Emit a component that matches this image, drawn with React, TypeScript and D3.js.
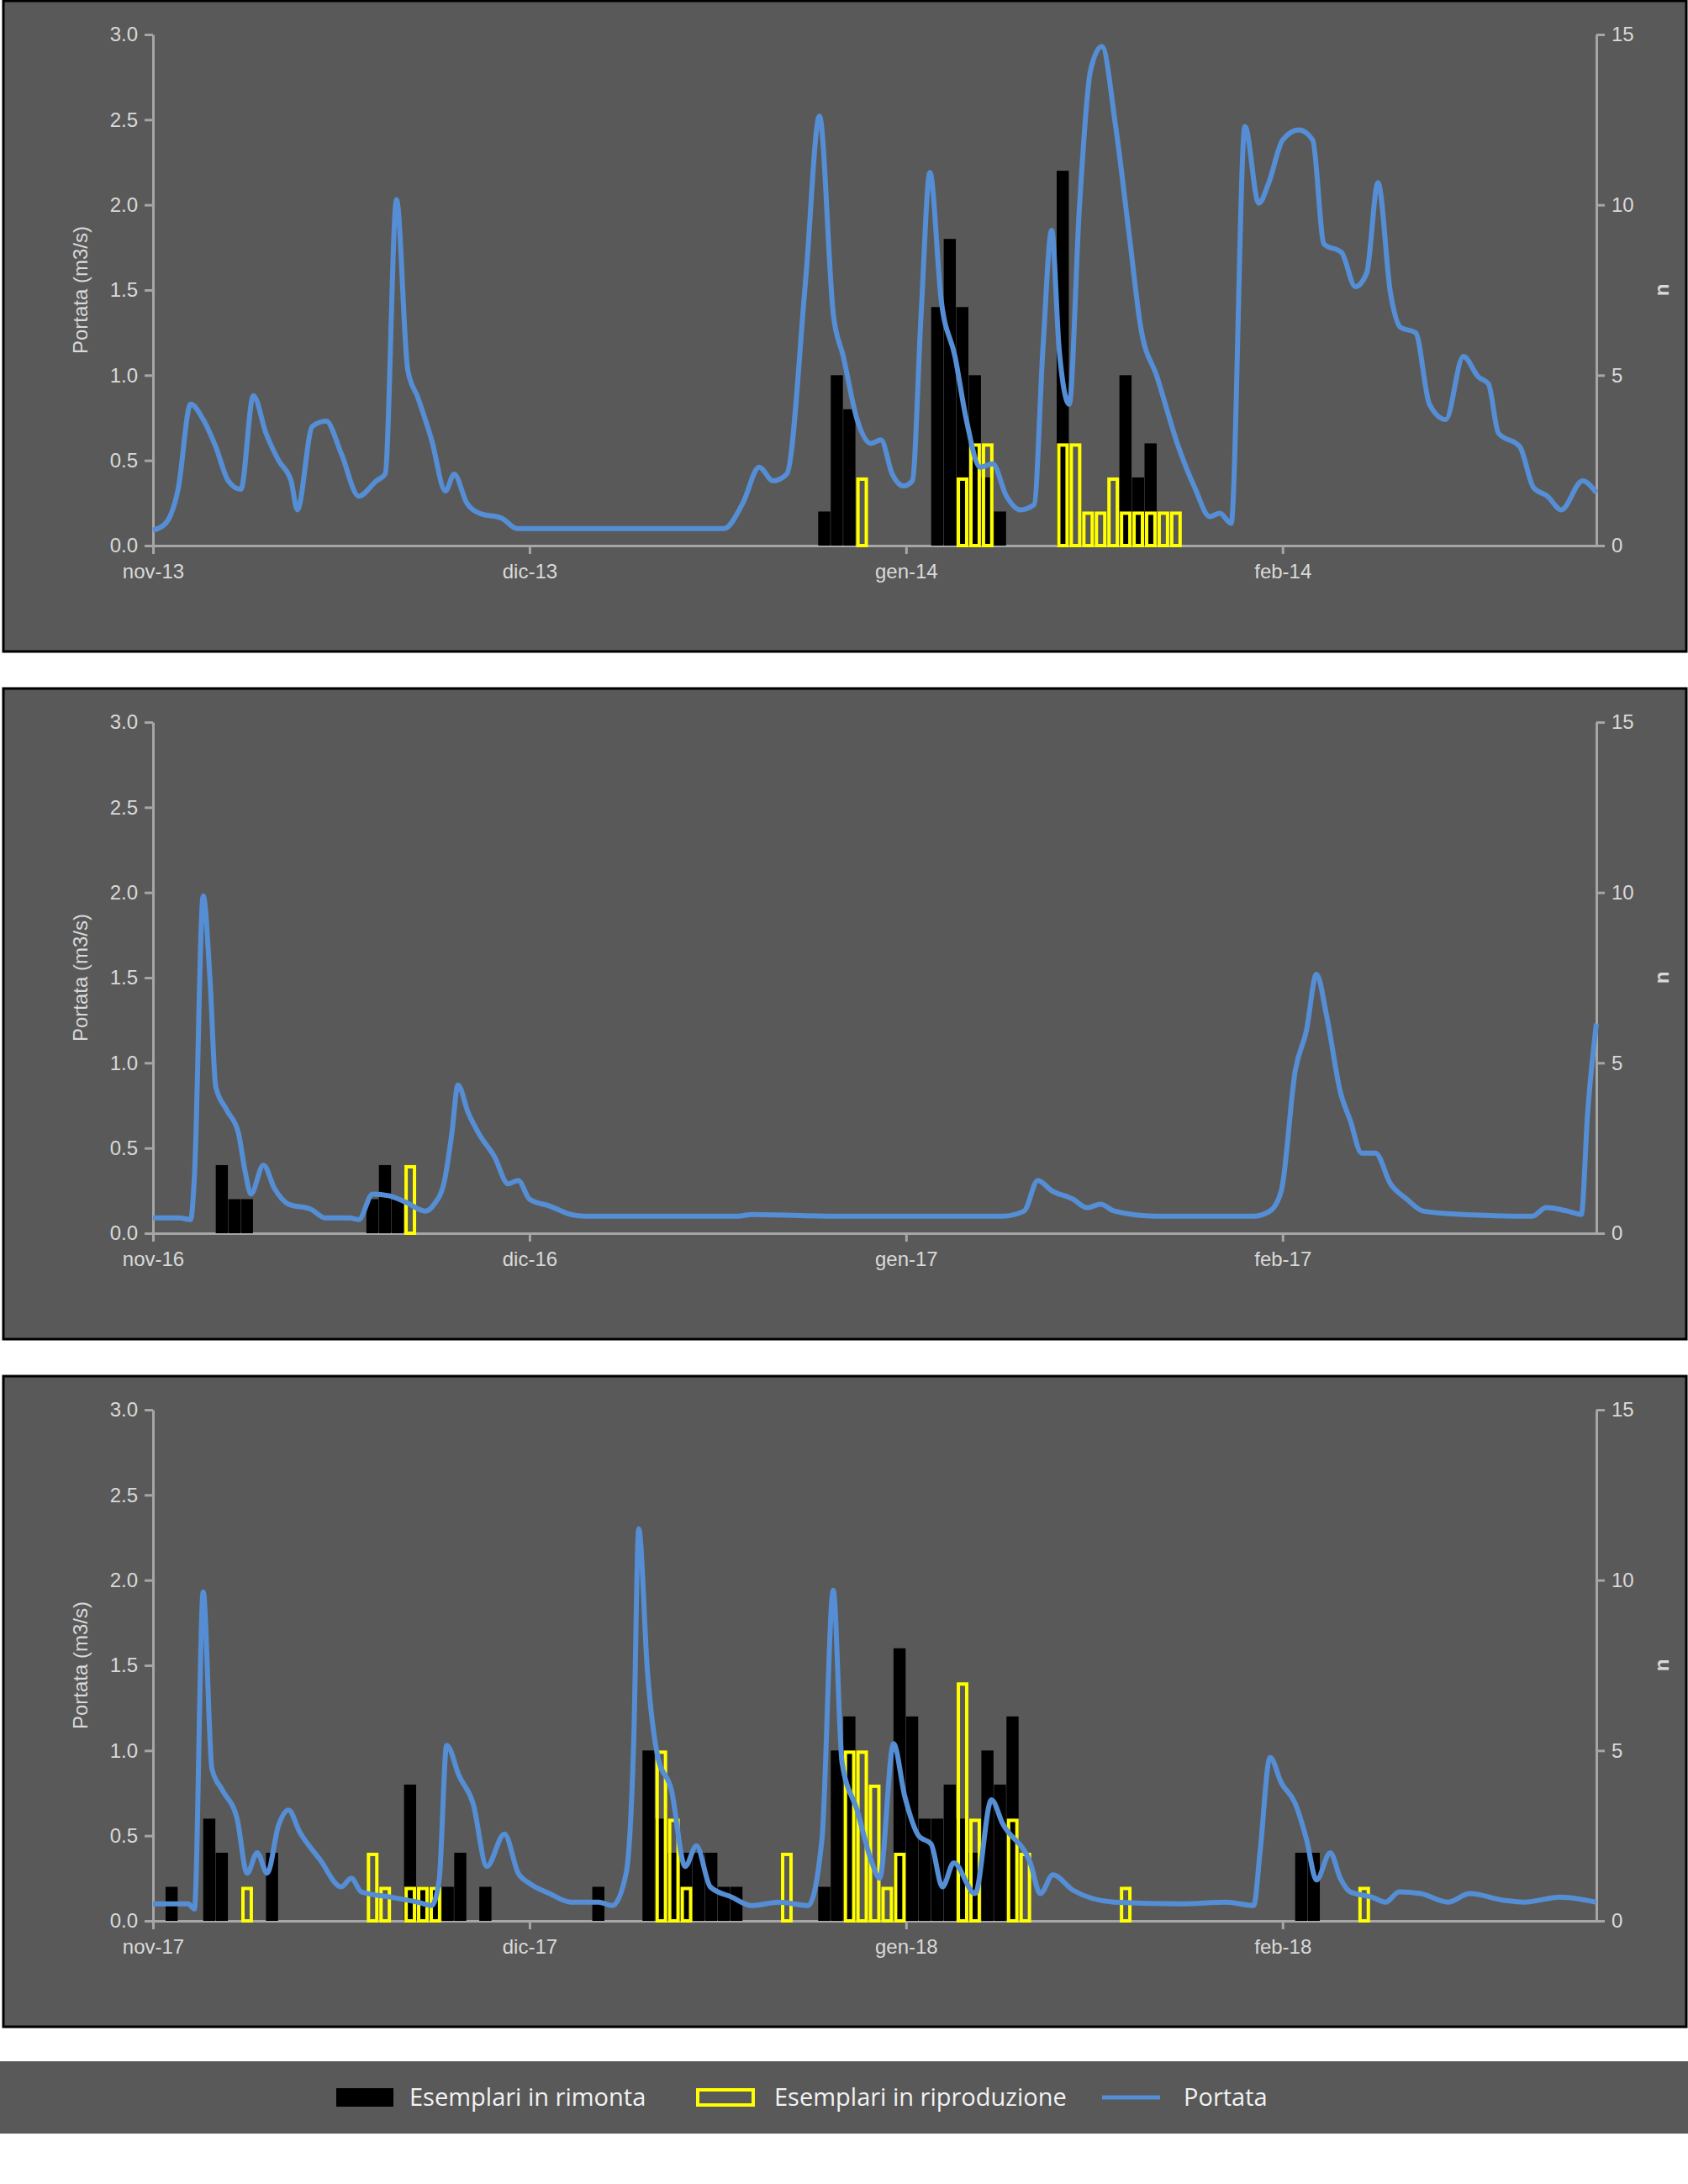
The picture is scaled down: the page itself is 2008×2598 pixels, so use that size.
import { useEffect, useRef } from "react";
import * as d3 from "d3";

type P = [number, number];

// day index (0 = 1 Nov) and discharge m3/s
const flow13: P[] = [[0,0.09],[1,0.13],[2,0.33],[3,0.83],[4,0.74],[5,0.58],[6,0.38],[7,0.33],[8,0.88],[9,0.66],[10,0.5],[11,0.38],[11.5,0.21],[12.7,0.7],[13.8,0.73],[15,0.54],[16.4,0.29],[17.8,0.38],[18.5,0.42],[19.4,2.03],[20.3,1.03],[21.1,0.87],[22.2,0.62],[23.3,0.32],[24,0.42],[25,0.25],[26,0.19],[27.8,0.16],[29,0.1],[35,0.1],[40,0.1],[45.5,0.1],[47,0.25],[48.3,0.46],[49.4,0.38],[50.5,0.42],[52,1.56],[53.1,2.52],[54.2,1.36],[55,1.11],[56.1,0.74],[57.2,0.6],[58,0.62],[58.9,0.42],[59.8,0.35],[60.5,0.38],[61.2,1.36],[61.9,2.19],[62.8,1.44],[63.9,1.11],[64.8,0.74],[65.9,0.46],[66.9,0.48],[68,0.29],[69.1,0.21],[70.2,0.24],[70.9,1.15],[71.6,1.85],[72.2,1.15],[73,0.83],[73.8,1.97],[74.7,2.79],[75.6,2.93],[76.7,2.46],[77.8,1.81],[78.7,1.28],[80,0.99],[81.7,0.58],[83,0.34],[84.2,0.17],[85,0.19],[85.9,0.13],[87,2.46],[88.1,2.01],[88.9,2.13],[90,2.38],[91.3,2.44],[92.4,2.38],[93.3,1.77],[94.7,1.72],[95.8,1.52],[96.7,1.6],[97.6,2.13],[98.6,1.48],[99.4,1.28],[100.6,1.25],[101.7,0.83],[103,0.74],[104.4,1.11],[105.6,0.99],[106.4,0.95],[107.2,0.66],[108.9,0.58],[110,0.34],[111.1,0.29],[112.2,0.21],[113.9,0.38],[115,0.31]];
const flow16: P[] = [[0,0.09],[2.1,0.09],[3,0.08],[3.3,0.33],[4,1.98],[4.55,1.48],[5,0.86],[5.9,0.72],[6.8,0.59],[7.35,0.36],[7.8,0.23],[8.8,0.4],[9.7,0.26],[10.8,0.17],[12.6,0.14],[13.7,0.09],[15.7,0.09],[16.4,0.08],[17.5,0.23],[18.8,0.22],[20.2,0.18],[21.7,0.13],[22.4,0.17],[23.2,0.3],[23.8,0.58],[24.3,0.87],[25.1,0.71],[26,0.58],[27.2,0.45],[28.3,0.29],[29.1,0.31],[30,0.2],[31.6,0.16],[33.3,0.11],[34.4,0.1],[40,0.1],[46.6,0.1],[47.7,0.11],[54.4,0.1],[60,0.1],[67.7,0.1],[69.4,0.13],[70.5,0.31],[71.6,0.25],[73.3,0.2],[74.4,0.15],[75.5,0.17],[76.6,0.13],[79.9,0.1],[87.7,0.1],[89,0.13],[89.9,0.25],[91,0.95],[91.9,1.19],[92.7,1.52],[93.5,1.28],[94.6,0.83],[95.4,0.66],[96.3,0.47],[97.4,0.47],[98.6,0.29],[99.9,0.2],[101.2,0.13],[104.3,0.11],[109.9,0.1],[111,0.15],[112.7,0.13],[113.8,0.11],[114.3,0.7],[115,1.23]];
const flow17: P[] = [[0,0.1],[2.8,0.1],[3.3,0.07],[4,1.93],[4.7,0.89],[5.5,0.77],[6.7,0.6],[7.5,0.28],[8.3,0.4],[9.1,0.28],[10,0.56],[10.8,0.65],[11.7,0.52],[13.3,0.36],[15,0.2],[15.8,0.25],[16.6,0.17],[18.9,0.14],[21.1,0.11],[22.2,0.09],[22.8,0.24],[23.4,1.03],[24.4,0.85],[25.5,0.69],[26.6,0.32],[28,0.51],[29.1,0.28],[30,0.22],[31.6,0.16],[33.3,0.11],[35.5,0.11],[36.6,0.09],[37.7,0.28],[38.3,1.05],[38.7,2.3],[39.4,1.46],[40.2,0.97],[41.3,0.77],[42.4,0.32],[43.3,0.44],[44.4,0.2],[46.1,0.14],[47.7,0.09],[49.9,0.11],[52.2,0.09],[53.3,0.48],[54.2,1.94],[54.9,0.93],[56.1,0.65],[57.2,0.36],[57.9,0.25],[59,1.04],[59.9,0.73],[61,0.5],[62,0.45],[62.9,0.2],[63.8,0.34],[65.5,0.16],[66.8,0.71],[67.7,0.57],[69.9,0.34],[70.7,0.16],[71.7,0.27],[73.3,0.18],[76.6,0.11],[82,0.1],[85.5,0.11],[87.7,0.09],[88.2,0.4],[89,0.96],[89.9,0.81],[91,0.69],[91.9,0.48],[92.7,0.24],[93.8,0.4],[94.6,0.25],[95.4,0.17],[97.1,0.14],[98.2,0.11],[99.3,0.17],[101,0.16],[103.2,0.11],[104.9,0.16],[107.7,0.12],[109.3,0.11],[112.1,0.14],[115,0.11]];

// [day, n]
const rimonta13: P[] = [[53,1],[54,5],[55,4],[62,7],[63,9],[64,7],[65,5],[66,2],[67,1],[72,11],[77,5],[78,2],[79,3]];
const riprod13: P[] = [[56,2],[64,2],[65,3],[66,3],[72,3],[73,3],[74,1],[75,1],[76,2],[77,1],[78,1],[79,1],[80,1],[81,1]];
const rimonta16: P[] = [[5,2],[6,1],[7,1],[17,1],[18,2],[19,1]];
const riprod16: P[] = [[20,2]];
const rimonta17: P[] = [[1,1],[4,3],[5,2],[9,2],[20,4],[21,1],[22,1],[23,1],[24,2],[26,1],[35,1],[39,5],[40,3],[41,2],[42,2],[43,2],[44,2],[45,1],[46,1],[53,1],[54,5],[55,6],[59,8],[60,6],[61,3],[62,3],[63,4],[64,3],[65,2],[66,5],[67,4],[68,6],[91,2],[92,2]];
const riprod17: P[] = [[7,1],[17,2],[18,1],[20,1],[21,1],[22,1],[40,5],[41,3],[42,1],[50,2],[55,5],[56,5],[57,4],[58,1],[59,2],[64,7],[65,3],[68,3],[69,2],[77,1],[96,1]];

const monthTicks = [0, 30, 60, 90];
const panels = [
  { months: ["nov-13", "dic-13", "gen-14", "feb-14"], flow: flow13, rimonta: rimonta13, riprod: riprod13 },
  { months: ["nov-16", "dic-16", "gen-17", "feb-17"], flow: flow16, rimonta: rimonta16, riprod: riprod16 },
  { months: ["nov-17", "dic-17", "gen-18", "feb-18"], flow: flow17, rimonta: rimonta17, riprod: riprod17 },
];

const W = 2008, H = 2598;
const BG = "#595959", AX = "#a6a6a6", TXT = "#d9d9d9", BLUE = "#558ed5", YEL = "#ffff00";
const FONT = "Liberation Sans, Arial, sans-serif";

export default function App() {
  const ref = useRef<SVGSVGElement>(null);
  useEffect(() => {
    const svg = d3.select(ref.current);
    svg.selectAll("*").remove();
    const boxTops = [0, 818, 1636];
    const boxH = 774;
    const ml = 182, mr = 1899, pt = 41, ph = 608;
    const x = d3.scaleLinear().domain([0, 115]).range([ml, mr]);
    const y = d3.scaleLinear().domain([0, 3]).range([pt + ph, pt]);
    const yn = d3.scaleLinear().domain([0, 15]).range([pt + ph, pt]);

    panels.forEach((p, i) => {
      const g = svg.append("g").attr("transform", `translate(0,${boxTops[i]})`);
      g.append("rect").attr("x", 4).attr("y", 1).attr("width", W - 6).attr("height", boxH)
        .attr("fill", BG).attr("stroke", "#000").attr("stroke-width", 3);

      const yl = g.append("g").attr("transform", `translate(${ml},0)`)
        .call(d3.axisLeft(y).tickValues(d3.range(0, 3.01, 0.5)).tickFormat(d3.format(".1f")).tickSize(10).tickSizeOuter(0));
      const yr = g.append("g").attr("transform", `translate(${mr},0)`)
        .call(d3.axisRight(yn).tickValues([0, 5, 10, 15]).tickSize(10).tickSizeOuter(0));
      const xa = g.append("g").attr("transform", `translate(0,${pt + ph})`)
        .call(d3.axisBottom(x).tickValues(monthTicks).tickFormat((_, k) => p.months[k]).tickSize(10).tickSizeOuter(0));
      [yl, yr, xa].forEach((a) => {
        a.selectAll("path,line").attr("stroke", AX).attr("stroke-width", 3);
        a.selectAll("text").attr("fill", TXT).attr("font-size", 24).attr("font-family", FONT);
      });
      yl.selectAll("text").attr("x", -18);
      yr.selectAll("text").attr("x", 18);
      xa.selectAll("text").attr("y", 22);

      g.append("text").attr("transform", `translate(104,${pt + ph / 2}) rotate(-90)`)
        .attr("text-anchor", "middle").attr("fill", TXT).attr("font-size", 24).attr("font-family", FONT)
        .text("Portata (m3/s)");
      g.append("text").attr("transform", `translate(1985,${pt + ph / 2}) rotate(-90)`)
        .attr("text-anchor", "middle").attr("fill", TXT).attr("font-size", 24).attr("font-weight", "bold").attr("font-family", FONT)
        .text("n");

      const bw = x(1) - x(0);
      g.selectAll(".rim").data(p.rimonta).join("rect")
        .attr("x", (d) => x(d[0])).attr("width", bw - 0.5)
        .attr("y", (d) => yn(d[1])).attr("height", (d) => yn(0) - yn(d[1]))
        .attr("fill", "#000");
      g.selectAll(".rip").data(p.riprod).join("rect")
        .attr("x", (d) => x(d[0]) + 2.5).attr("width", bw - 5)
        .attr("y", (d) => yn(d[1]) + 2).attr("height", (d) => yn(0) - yn(d[1]) - 2)
        .attr("fill", "none").attr("stroke", YEL).attr("stroke-width", 4);

      const line = d3.line<P>().x((d) => x(d[0])).y((d) => y(d[1])).curve(d3.curveMonotoneX);
      g.append("path").attr("d", line(p.flow)).attr("fill", "none")
        .attr("stroke", BLUE).attr("stroke-width", 6).attr("stroke-linejoin", "round");
    });

    // legend
    const lg = svg.append("g").attr("transform", "translate(0,2452)");
    lg.append("rect").attr("x", 0).attr("y", 0).attr("width", W).attr("height", 86).attr("fill", BG);
    const ly = 43;
    lg.append("rect").attr("x", 400).attr("y", ly - 11).attr("width", 68).attr("height", 22).attr("fill", "#000");
    lg.append("rect").attr("x", 830).attr("y", ly - 9).attr("width", 66).attr("height", 18)
      .attr("fill", "none").attr("stroke", YEL).attr("stroke-width", 4);
    lg.append("line").attr("x1", 1311).attr("x2", 1380).attr("y1", ly).attr("y2", ly)
      .attr("stroke", BLUE).attr("stroke-width", 5);
    const labels: [number, string][] = [[487, "Esemplari in rimonta"], [921, "Esemplari in riproduzione"], [1408, "Portata"]];
    labels.forEach(([lx, t]) => {
      lg.append("text").attr("x", lx).attr("y", ly + 10).attr("fill", "#f2f2f2")
        .attr("font-size", 29).attr("font-family", "Open Sans, sans-serif").text(t);
    });
  }, []);
  return <svg ref={ref} width={W} height={H} style={{ position: "absolute", left: 0, top: 0, background: "#fff" }} />;
}
